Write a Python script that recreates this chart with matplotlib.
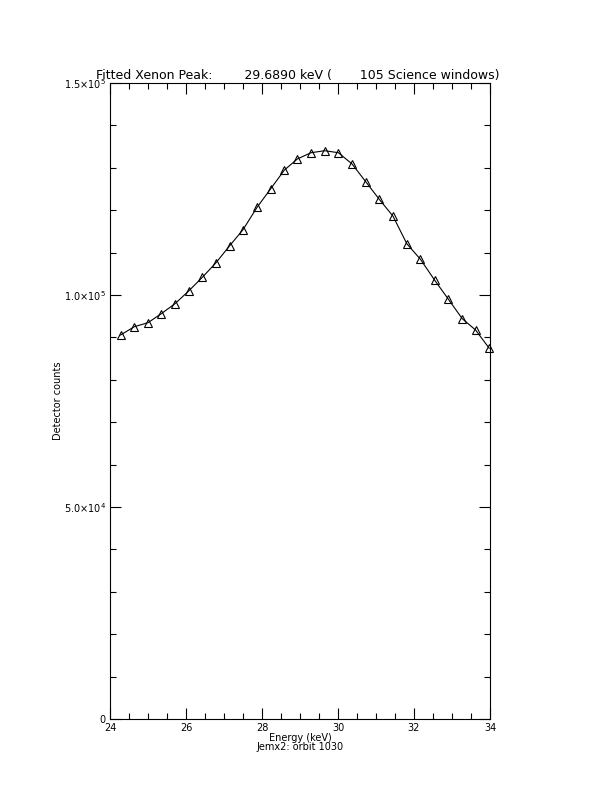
import numpy as np
from matplotlib import pyplot as plt
from matplotlib.ticker import MultipleLocator, FixedLocator

# energy of each channel (keV) and the measured counts
energy = [24.28, 24.64, 25.00, 25.35, 25.71, 26.07, 26.43, 26.79, 27.15, 27.50,
          27.87, 28.23, 28.59, 28.93, 29.29, 29.65, 30.01, 30.37, 30.73, 31.08,
          31.45, 31.81, 32.17, 32.54, 32.90, 33.27, 33.62, 33.98]
counts = [90570, 92520, 93470, 95590, 97950, 100940, 104170, 107620, 111630, 115400,
          120680, 125070, 129480, 132080, 133560, 134030, 133560, 130900, 126720, 122640,
          118560, 112100, 108420, 103540, 99060, 94410, 91750, 87430]

x_ticks = [24, 26, 28, 30, 32, 34]
y_ticks = [0, 5.0e4, 1.0e5, 1.5e5]
y_tick_labels = ["0", r"5.0$\times$10$^4$", r"1.0$\times$10$^5$", r"1.5$\times$10$^5$"]

title = "Fitted Xenon Peak:        29.6890 keV (       105 Science windows)"


def run():
  plt.rcParams["font.family"] = ["DejaVu Sans"]
  plt.rcParams["mathtext.fontset"] = "dejavusans"
  fig = plt.figure(figsize=(6.12, 7.92), dpi=100)
  ax = fig.add_axes([110 / 612, 1 - 719 / 792, 380 / 612, 636 / 792])

  ax.plot(energy, counts, color="black", linewidth=0.8,
          marker="^", markersize=5.2, markerfacecolor="none",
          markeredgecolor="black", markeredgewidth=0.8, clip_on=False)

  ax.set_xlim(24, 34)
  ax.set_ylim(0, 1.5e5)
  ax.xaxis.set_major_locator(FixedLocator(x_ticks))
  ax.xaxis.set_minor_locator(MultipleLocator(0.5))
  ax.yaxis.set_major_locator(FixedLocator(y_ticks))
  ax.yaxis.set_minor_locator(MultipleLocator(1e4))
  ax.set_xticklabels([str(t) for t in x_ticks])
  ax.set_yticklabels(y_tick_labels)

  ax.tick_params(which="both", direction="in", top=True, right=True,
                 labelsize=7, width=0.8, pad=3)
  ax.tick_params(which="major", length=8)
  ax.tick_params(which="minor", length=4)
  for s in ax.spines.values():
    s.set_linewidth(0.8)

  fig.text(298 / 612, 1 - 75 / 792, title, ha="center", va="center", fontsize=9)
  fig.text(58 / 612, 1 - 401 / 792, "Detector counts", rotation=90,
           ha="center", va="center", fontsize=7)
  fig.text(300 / 612, 1 - 738 / 792, "Energy (keV)", ha="center", va="center", fontsize=7)
  fig.text(300 / 612, 1 - 747 / 792, "Jemx2: orbit 1030", ha="center", va="center", fontsize=7)

  fig.savefig("out.png", dpi=100)


if __name__ == "__main__":
  run()
